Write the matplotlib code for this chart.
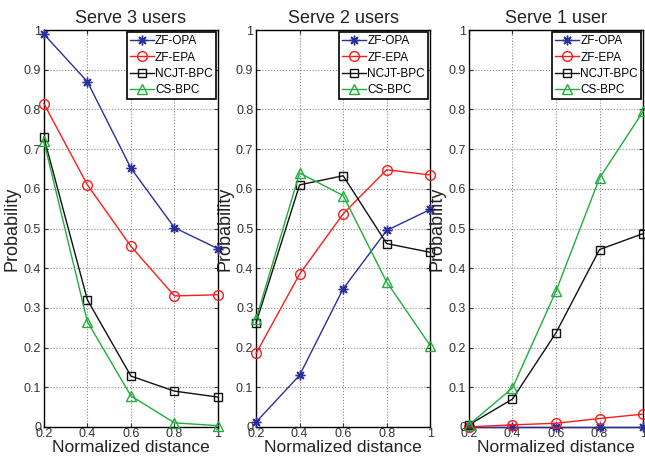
import matplotlib.pyplot as plt

plt.rcParams['font.family'] = ['Liberation Sans', 'DejaVu Sans']

dist = [0.2, 0.4, 0.6, 0.8, 1.0]
titles = ["Serve 3 users", "Serve 2 users", "Serve 1 user"]
names = ["ZF-OPA", "ZF-EPA", "NCJT-BPC", "CS-BPC"]

# serve 3 users
s3_zf_opa = [0.99, 0.87, 0.652, 0.502, 0.449]
s3_zf_epa = [0.815, 0.61, 0.455, 0.33, 0.333]
s3_ncjt = [0.73, 0.32, 0.128, 0.09, 0.075]
s3_cs = [0.72, 0.265, 0.078, 0.01, 0.003]

# serve 2 users
s2_zf_opa = [0.012, 0.13, 0.348, 0.495, 0.548]
s2_zf_epa = [0.185, 0.385, 0.537, 0.648, 0.635]
s2_ncjt = [0.262, 0.61, 0.633, 0.462, 0.44]
s2_cs = [0.272, 0.64, 0.583, 0.365, 0.205]

# serve 1 user
s1_zf_opa = [0.0, 0.0, 0.0, 0.0, 0.0]
s1_zf_epa = [0.0, 0.005, 0.009, 0.021, 0.032]
s1_ncjt = [0.005, 0.07, 0.237, 0.447, 0.487]
s1_cs = [0.005, 0.098, 0.342, 0.627, 0.795]

panels = [
    [s3_zf_opa, s3_zf_epa, s3_ncjt, s3_cs],
    [s2_zf_opa, s2_zf_epa, s2_ncjt, s2_cs],
    [s1_zf_opa, s1_zf_epa, s1_ncjt, s1_cs],
]

colors = ["#2b2f9c", "#ff1a1a", "#111111", "#1fae3a"]
markers = [(8, 2, 0), "o", "s", "^"]
msizes = [7, 7, 6, 7]

fig = plt.figure(figsize=(6.45, 4.57), dpi=100)
lefts = [0.068, 0.397, 0.727]

for k in range(3):
    ax = fig.add_axes([lefts[k], 0.066, 0.27, 0.868])
    for i in range(4):
        ax.plot(dist, panels[k][i], color=colors[i], marker=markers[i],
                markersize=msizes[i], markerfacecolor="none",
                markeredgecolor=colors[i], markeredgewidth=1.0,
                linewidth=1.0, label=names[i], clip_on=False, zorder=3)
    ax.set_xlim(0.2, 1.0)
    ax.set_ylim(0, 1)
    ax.set_xticks(dist)
    ax.set_xticklabels(["0.2", "0.4", "0.6", "0.8", "1"])
    ax.set_yticks([i / 10 for i in range(11)])
    ax.set_yticklabels(["0"] + ["0.%d" % i for i in range(1, 10)] + ["1"])
    ax.tick_params(direction="in", length=3, labelsize=9, colors="#333333",
                   pad=2, top=True, right=True)
    ax.tick_params(axis="x", pad=1)
    ax.grid(True, linestyle=":", color="#888888", linewidth=0.8)
    for sp in ax.spines.values():
        sp.set_linewidth(1.0)
    ax.set_title(titles[k], fontsize=13, color="#222222", pad=5)
    ax.set_xlabel("Normalized distance", fontsize=12.5, color="#222222", labelpad=0)
    ax.set_ylabel("Probability", fontsize=13, color="#222222", labelpad=2)
    leg = ax.legend(loc="upper right", fontsize=8.5, fancybox=False,
                    framealpha=1, edgecolor="black", borderpad=0.3,
                    labelspacing=0.35, handlelength=2.0, handletextpad=0.1,
                    borderaxespad=0.15)
    leg.get_frame().set_linewidth(1.2)

fig.savefig("out.png", dpi=100)
